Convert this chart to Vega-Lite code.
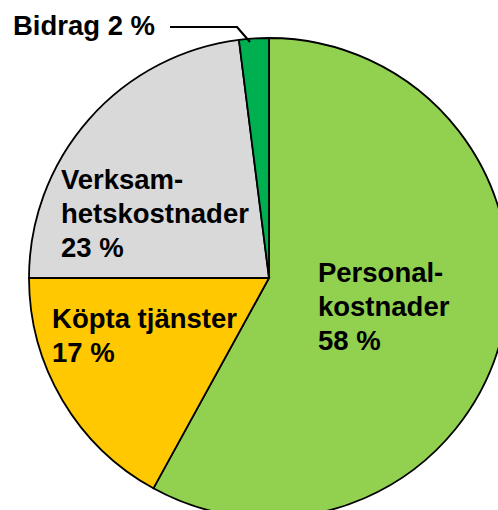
{
  "$schema": "https://vega.github.io/schema/vega-lite/v6.json",
  "width": 480,
  "height": 480,
  "autosize": "none",
  "padding": {"left": 29, "top": 38, "right": 0, "bottom": 0},
  "background": "white",
  "config": {"view": {"stroke": null}},
  "datasets": {
    "slices": [
      {"category": "Personalkostnader", "value": 58, "order": 1},
      {"category": "Köpta tjänster", "value": 17, "order": 2},
      {"category": "Verksamhetskostnader", "value": 23, "order": 3},
      {"category": "Bidrag", "value": 2, "order": 4}
    ],
    "leader": [
      {"i": 1, "x": -0.4125, "y": 1.0458},
      {"i": 2, "x": -0.1333, "y": 1.0458},
      {"i": 3, "x": -0.0792, "y": 0.9833}
    ],
    "labels": [
      {"label": "Personal-\nkostnader\n58 %", "x": 0.204, "y": -0.017},
      {"label": "Verksam-\nhetskostnader\n23 %", "x": -0.867, "y": 0.371},
      {"label": "Köpta tjänster\n17 %", "x": -0.904, "y": -0.208},
      {"label": "Bidrag 2 %", "x": -1.067, "y": 1.0125}
    ]
  },
  "layer": [
    {
      "data": {"name": "slices"},
      "mark": {"type": "arc", "stroke": "black", "strokeWidth": 1.8},
      "encoding": {
        "theta": {"field": "value", "type": "quantitative", "stack": true},
        "order": {"field": "order", "type": "quantitative"},
        "color": {
          "field": "category",
          "type": "nominal",
          "scale": {
            "domain": ["Personalkostnader", "Köpta tjänster", "Verksamhetskostnader", "Bidrag"],
            "range": ["#92D050", "#FFC800", "#D9D9D9", "#00B050"]
          },
          "legend": null
        }
      }
    },
    {
      "data": {"name": "leader"},
      "mark": {"type": "line", "color": "black", "strokeWidth": 2.2},
      "encoding": {
        "x": {"field": "x", "type": "quantitative", "scale": {"domain": [-1, 1], "nice": false, "zero": false}, "axis": null},
        "y": {"field": "y", "type": "quantitative", "scale": {"domain": [-1, 1], "nice": false, "zero": false}, "axis": null},
        "order": {"field": "i", "type": "quantitative"}
      }
    },
    {
      "data": {"name": "labels"},
      "mark": {
        "type": "text",
        "align": "left",
        "baseline": "alphabetic",
        "font": "Liberation Sans",
        "fontWeight": "bold",
        "fontSize": 27.5,
        "lineHeight": 34,
        "lineBreak": "\n",
        "color": "black"
      },
      "encoding": {
        "x": {"field": "x", "type": "quantitative", "axis": null},
        "y": {"field": "y", "type": "quantitative", "axis": null},
        "text": {"field": "label", "type": "nominal"}
      }
    }
  ]
}
